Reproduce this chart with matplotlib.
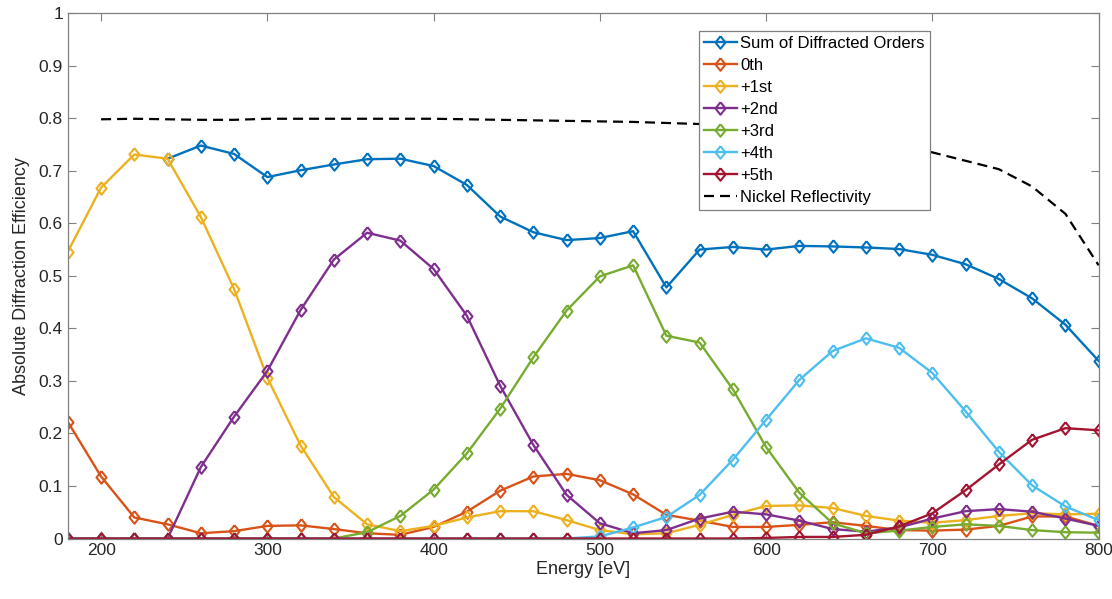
import matplotlib.pyplot as plt
import numpy as np
from matplotlib.ticker import FormatStrFormatter

plt.rcParams["font.family"] = ["Liberation Sans", "DejaVu Sans"]

energy = np.arange(180, 801, 20)

# sum only shown from 240 eV (hidden under +1st before that)
sum_orders = [np.nan, np.nan, np.nan, 0.723, 0.748, 0.732, 0.688, 0.701, 0.712, 0.722,
              0.723, 0.709, 0.673, 0.613, 0.583, 0.568, 0.572, 0.585, 0.478, 0.550,
              0.555, 0.550, 0.557, 0.556, 0.554, 0.551, 0.540, 0.522, 0.494, 0.457,
              0.407, 0.338]
order0 = [0.222, 0.118, 0.040, 0.027, 0.010, 0.014, 0.024, 0.025, 0.018, 0.010,
          0.007, 0.022, 0.051, 0.091, 0.118, 0.123, 0.111, 0.084, 0.045, 0.034,
          0.022, 0.022, 0.026, 0.031, 0.024, 0.016, 0.015, 0.017, 0.024, 0.042,
          0.042, 0.024]
order1 = [0.546, 0.668, 0.731, 0.723, 0.612, 0.475, 0.306, 0.177, 0.079, 0.027,
          0.014, 0.024, 0.040, 0.052, 0.052, 0.035, 0.016, 0.008, 0.010, 0.026,
          0.045, 0.062, 0.063, 0.058, 0.043, 0.034, 0.030, 0.035, 0.043, 0.048,
          0.046, 0.047]
order2 = [0, 0, 0, 0, 0.136, 0.232, 0.319, 0.435, 0.531, 0.582,
          0.567, 0.513, 0.424, 0.291, 0.178, 0.083, 0.029, 0.010, 0.016, 0.038,
          0.051, 0.046, 0.034, 0.018, 0.013, 0.021, 0.038, 0.052, 0.056, 0.051,
          0.038, 0.024]
order3 = [0, 0, 0, 0, 0, 0, 0, 0, 0, 0.012,
          0.043, 0.093, 0.162, 0.247, 0.345, 0.434, 0.499, 0.520, 0.386, 0.373,
          0.284, 0.174, 0.087, 0.029, 0.010, 0.015, 0.022, 0.027, 0.024, 0.016,
          0.012, 0.011]
order4 = [0, 0, 0, 0, 0, 0, 0, 0, 0, 0,
          0, 0, 0, 0, 0, 0, 0.004, 0.021, 0.041, 0.083,
          0.150, 0.226, 0.302, 0.357, 0.381, 0.363, 0.315, 0.242, 0.165, 0.101,
          0.061, 0.035]
order5 = [0, 0, 0, 0, 0, 0, 0, 0, 0, 0,
          0, 0, 0, 0, 0, 0, 0, 0, 0, 0,
          0, 0.001, 0.003, 0.003, 0.007, 0.023, 0.048, 0.092, 0.141, 0.188,
          0.210, 0.206]

ni_energy = np.arange(200, 801, 20)
ni_refl = [0.798, 0.799, 0.798, 0.797, 0.797, 0.799, 0.799, 0.799, 0.799, 0.799,
           0.799, 0.798, 0.797, 0.796, 0.795, 0.794, 0.793, 0.791, 0.789, 0.786,
           0.782, 0.777, 0.770, 0.760, 0.749, 0.735, 0.719, 0.703, 0.670, 0.618,
           0.520]

series = [
    ("Sum of Diffracted Orders", sum_orders, "#0072BD"),
    ("0th", order0, "#D95319"),
    ("+1st", order1, "#EDB120"),
    ("+2nd", order2, "#7E2F8E"),
    ("+3rd", order3, "#77AC30"),
    ("+4th", order4, "#4DBEEE"),
    ("+5th", order5, "#A2142F"),
]

# matlab style diamond, a bit taller than wide
diamond = [(0, 1), (0.8, 0), (0, -1), (-0.8, 0), (0, 1)]

fig = plt.figure(figsize=(11.12, 5.99), dpi=100)
ax = fig.add_axes([0.061, 0.101, 0.927, 0.877])

for label, vals, col in series:
    ax.plot(energy, vals, color=col, lw=1.7, marker=diamond, ms=9, mfc="none",
            mew=1.5, label=label)
ax.plot(ni_energy, ni_refl, color="black", lw=1.6, ls=(0, (4.5, 2.7)),
        label="Nickel Reflectivity")

ax.set_xlim(180, 800)
ax.set_ylim(0, 1)
ax.set_xticks(np.arange(200, 801, 100))
ax.set_yticks(np.arange(0, 1.01, 0.1))
ax.yaxis.set_major_formatter(FormatStrFormatter("%g"))
ax.tick_params(direction="in", top=True, right=True, labelsize=12.5,
               colors="#262626", length=6, width=0.8)
ax.tick_params(axis="both", which="both", color="#808080")
for s in ax.spines.values():
    s.set_color("#808080")
    s.set_linewidth(0.9)

ax.set_xlabel("Energy [eV]", fontsize=13, color="#262626", labelpad=2)
ax.set_ylabel("Absolute Diffraction Efficiency", fontsize=13, color="#262626",
              labelpad=6)

leg = ax.legend(loc="upper left", bbox_to_anchor=(0.612, 0.967), fontsize=12,
                fancybox=False, framealpha=1, edgecolor="#808080",
                handlelength=2.0, handletextpad=0.2, borderpad=0.3,
                labelspacing=0.42, borderaxespad=0)
leg.get_frame().set_linewidth(0.9)

fig.savefig("out.png", dpi=100)
